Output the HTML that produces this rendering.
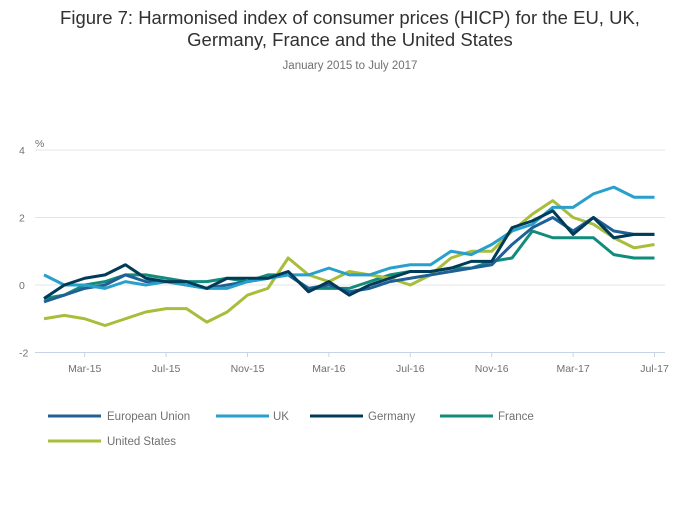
<!DOCTYPE html>
<html><head><meta charset="utf-8"><style>
body{margin:0;background:#fff;font-family:"Liberation Sans",sans-serif;}
svg text{font-family:"Liberation Sans",sans-serif;}
</style></head><body>
<svg width="700" height="502">
<text x="350" y="24" text-anchor="middle" font-size="18.5" fill="#323132">Figure 7: Harmonised index of consumer prices (HICP) for the EU, UK,</text>
<text x="350" y="46" text-anchor="middle" font-size="18.5" fill="#323132">Germany, France and the United States</text>
<text x="350" y="69" text-anchor="middle" font-size="11.5" fill="#707071">January 2015 to July 2017</text>
<text x="35" y="147" font-size="10.5" fill="#707071">%</text>
<g id="grid"></g><g id="xaxis"></g><g id="series"></g>
<g font-size="11.5" fill="#707071">
<line x1="48" y1="416" x2="101" y2="416" stroke="#206095" stroke-width="3"/><text x="107" y="420">European Union</text>
<line x1="216" y1="416" x2="269" y2="416" stroke="#27a0cc" stroke-width="3"/><text x="273" y="420">UK</text>
<line x1="310" y1="416" x2="363" y2="416" stroke="#003c57" stroke-width="3"/><text x="368" y="420">Germany</text>
<line x1="440" y1="416" x2="493" y2="416" stroke="#118c7b" stroke-width="3"/><text x="498" y="420">France</text>
<line x1="48" y1="441" x2="101" y2="441" stroke="#a8bd3a" stroke-width="3"/><text x="107" y="445">United States</text>
</g>
</svg>
<script>
const yTicks=[4,2,0,-2];
const xTickLabels=["Mar-15","Jul-15","Nov-15","Mar-16","Jul-16","Nov-16","Mar-17","Jul-17"];
const xTickMonths=[2,6,10,14,18,22,26,30];
const eu=[-0.5,-0.3,-0.1,0.0,0.3,0.1,0.1,0.0,-0.1,0.0,0.1,0.2,0.3,-0.1,0.0,-0.2,-0.1,0.1,0.2,0.3,0.4,0.5,0.6,1.2,1.7,2.0,1.6,2.0,1.6,1.5,1.5];
const uk=[0.3,0.0,0.0,-0.1,0.1,0.0,0.1,0.0,-0.1,-0.1,0.1,0.2,0.3,0.3,0.5,0.3,0.3,0.5,0.6,0.6,1.0,0.9,1.2,1.6,1.8,2.3,2.3,2.7,2.9,2.6,2.6];
const de=[-0.4,0.0,0.2,0.3,0.6,0.2,0.1,0.1,-0.1,0.2,0.2,0.2,0.4,-0.2,0.1,-0.3,0.0,0.2,0.4,0.4,0.5,0.7,0.7,1.7,1.9,2.2,1.5,2.0,1.4,1.5,1.5];
const fr=[-0.4,-0.3,0.0,0.1,0.3,0.3,0.2,0.1,0.1,0.2,0.1,0.3,0.3,-0.1,-0.1,-0.1,0.1,0.3,0.4,0.4,0.5,0.5,0.7,0.8,1.6,1.4,1.4,1.4,0.9,0.8,0.8];
const us=[-1.0,-0.9,-1.0,-1.2,-1.0,-0.8,-0.7,-0.7,-1.1,-0.8,-0.3,-0.1,0.8,0.3,0.1,0.4,0.3,0.2,0.0,0.3,0.8,1.0,1.0,1.6,2.1,2.5,2.0,1.8,1.4,1.1,1.2];
const NS="http://www.w3.org/2000/svg";
const xS=m=>44+m*20.35, yS=v=>285-v*33.75;
const grid=document.getElementById('grid');
yTicks.forEach(v=>{
 const l=document.createElementNS(NS,'line');
 
 
 l.setAttribute('x1',35);l.setAttribute('x2',665);l.setAttribute('y1',yS(v));l.setAttribute('y2',yS(v));
 l.setAttribute('stroke',v===-2?'#c6d4e6':'#e4e4e4');l.setAttribute('stroke-width',1);
 grid.appendChild(l);
 const t=document.createElementNS(NS,'text');
 
 
 t.setAttribute('x',19);t.setAttribute('y',yS(v)+4);t.setAttribute('font-size','10.5');t.setAttribute('fill','#707071');
 t.textContent=v;grid.appendChild(t);
});
const xa=document.getElementById('xaxis');
xTickMonths.forEach((m,i)=>{
 const l=document.createElementNS(NS,'line');
 
 
 l.setAttribute('x1',xS(m));l.setAttribute('x2',xS(m));l.setAttribute('y1',352);l.setAttribute('y2',357);l.setAttribute('stroke','#c6d4e6');
 xa.appendChild(l);
 const t=document.createElementNS(NS,'text');
 
 
 t.setAttribute('x',xS(m));t.setAttribute('y',372);t.setAttribute('text-anchor','middle');t.setAttribute('font-size','10.5');t.setAttribute('fill','#707071');
 t.textContent=xTickLabels[i];xa.appendChild(t);
});
const ser=document.getElementById('series');
[[fr,'#118c7b','line-france'],[us,'#a8bd3a','line-us'],[eu,'#206095','line-eu'],[uk,'#27a0cc','line-uk'],[de,'#003c57','line-germany']].forEach(([d,c,n])=>{
 const p=document.createElementNS(NS,'polyline');
 
 
 p.setAttribute('points',d.map((v,i)=>xS(i)+','+yS(v)).join(' '));
 p.setAttribute('fill','none');p.setAttribute('stroke',c);p.setAttribute('stroke-width',3);p.setAttribute('stroke-linejoin','round');
 ser.appendChild(p);
});
</script>
</body></html>
